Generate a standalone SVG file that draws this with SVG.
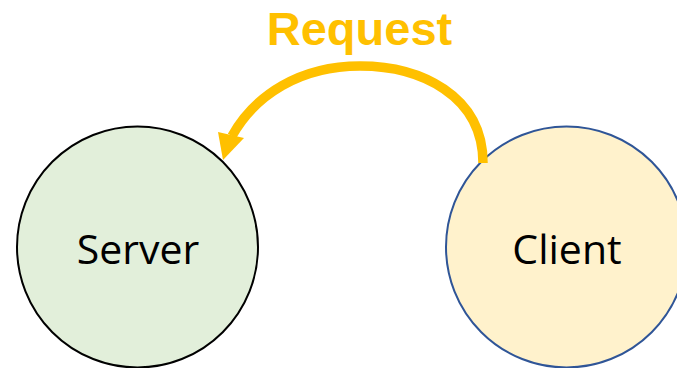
<svg xmlns="http://www.w3.org/2000/svg" width="677" height="368" viewBox="0 0 677 368">
  <style>
    .node-label { font-family: "Open Sans", "Liberation Sans", sans-serif; font-size: 41px; fill: #000; text-anchor: middle; }
    .edge-label { font-family: "Liberation Sans", Arial, sans-serif; font-weight: bold; font-size: 47px; fill: #FFC000; text-anchor: middle; }
    .edge { fill: none; stroke: #FFC000; stroke-width: 9.5; }
    .head { fill: #FFC000; }
  </style>
  <rect width="677" height="368" fill="#FFFFFF"/>
  <g id="server">
    <circle cx="137.5" cy="247" r="120.5" fill="#E2EFDA" stroke="#000000" stroke-width="2"/>
    <text class="node-label" x="138" y="264">Server</text>
  </g>
  <g id="client">
    <circle cx="566.5" cy="247" r="120.5" fill="#FFF2CC" stroke="#2F5597" stroke-width="2"/>
    <text class="node-label" x="567" y="264">Client</text>
  </g>
  <g id="connectors">
    <path class="edge" d="M 483 163 C 483 95, 420 66, 360 66 C 300 66, 255 95, 232 136"/>
    <polygon class="head" points="223,160 218,132 244,138"/>
    <text class="edge-label" x="359.5" y="45">Request</text>
  </g>
</svg>
